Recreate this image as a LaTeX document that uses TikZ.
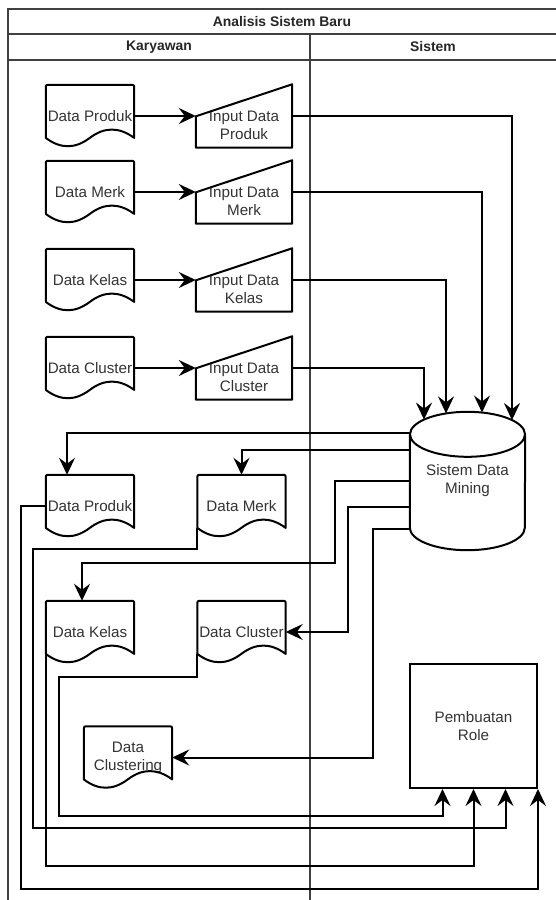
\documentclass[tikz,border=0pt]{standalone}
\usepackage{fontspec}
\setmainfont{Liberation Sans}
\usetikzlibrary{calc,arrows.meta}

\newcommand{\lblfont}{\fontsize{15.2}{18}\selectfont}
\newcommand{\hdfont}{\fontsize{13.9}{16}\selectfont\bfseries}

% outline of a document shape round node #1 (88 x 62)
\newcommand{\docout}[1]{%
  \draw[shp] ($(#1.south west)+(0,-9.3)$) -- ($(#1.north west)+(0,4)$)
    .. controls (#1.north west) .. ($(#1.north west)+(4,0)$)
    -- ($(#1.north east)+(-4,0)$)
    .. controls (#1.north east) .. ($(#1.north east)+(0,4)$)
    -- ($(#1.south east)+(0,-9.3)$)
    .. controls ($(#1.south west)+(73.3,-20.4)$) and ($(#1.south west)+(58.7,-20.4)$) .. ($(#1.south west)+(44,-9.3)$)
    .. controls ($(#1.south west)+(29.3,1.8)$) and ($(#1.south west)+(14.7,1.8)$) .. cycle;}

% outline of a manual input shape round node #1
\newcommand{\inout}[1]{%
  \draw[shp] ($(#1.north west)+(0,32)$) -- (#1.north east) -- (#1.south east) -- (#1.south west) -- cycle;}

\tikzset{
  shp/.style={line width=2pt, line join=round},
  conn/.style={line width=2pt, -{Stealth[length=17pt,width=16pt,inset=6pt]}},
  pool/.style={line width=1.2pt, black!75},
  head/.style={font=\hdfont, inner sep=0pt, text=black!85},
  docbox/.style={minimum width=88pt, minimum height=62pt, inner sep=0pt, align=center, font=\lblfont, text=black!80},
  inbox/.style={minimum width=96pt, minimum height=63pt, inner sep=0pt},
  inlabel/.style={align=center, font=\lblfont, text=black!80, yshift=-9.5pt, inner sep=0pt},
  rolebox/.style={draw, line width=2pt, minimum width=127pt, minimum height=124pt, inner sep=0pt, align=center, font=\lblfont, text=black!80}
}

\begin{document}
\begin{tikzpicture}[x=1pt, y=-1pt]
  \useasboundingbox (0,0) rectangle (556,900);
  \clip (0,0) rectangle (556,900);

  % Pool and lanes
  \draw[pool] (8,900) -- (8,9) -- (560,9);
  \draw[pool] (8,34) -- (560,34);
  \draw[pool] (8,60) -- (560,60);
  \draw[pool] (310,34) -- (310,900);
  \node[head] (ttl) at (282,21.5) {Analisis Sistem Baru};
  \node[head] (kar) at (159,47) {Karyawan};
  \node[head] (sis) at (433,47) {Sistem};

  % Sistem Data Mining
  \node[minimum width=115pt, minimum height=138pt, inner sep=0pt, align=center, font=\lblfont, text=black!80] (sdm) at (467.5,481) {Sistem Data\\Mining};
  \draw[shp] ($(sdm.north)+(0,22.5)$) ellipse [x radius=57.5, y radius=22.5];
  \draw[shp] ($(sdm.north west)+(0,22.5)$) -- ($(sdm.south west)+(0,-22.5)$)
    arc[start angle=180, end angle=0, x radius=57.5, y radius=22.5] -- ($(sdm.north east)+(0,22.5)$);

  % Input rows
  \foreach \nm/\txt/\y in {prod/Produk/116, merk/Merk/192, kelas/Kelas/280, clus/Cluster/368} {
    \node[docbox] (d\nm) at (90,\y) {Data \txt};
    \docout{d\nm}
    \node[inbox, label={[inlabel]center:{Input Data\\\txt}}] (i\nm) at (244,\y) {};
    \inout{i\nm}
    \draw[conn] (d\nm) -- (i\nm);
  }
  \draw[conn] (iprod.east) -| ($(sdm.north)+(44.5,8.3)$);
  \draw[conn] (imerk.east) -| ($(sdm.north)+(14.5,0.7)$);
  \draw[conn] (ikelas.east) -| ($(sdm.north)+(-21.5,1.6)$);
  \draw[conn] (iclus.east) -| ($(sdm.north)+(-43.5,7.8)$);

  % Output documents
  \node[docbox] (dprod2) at (90,506) {Data Produk};
  \docout{dprod2}
  \node[docbox] (dmerk2) at (241.5,506) {Data Merk};
  \docout{dmerk2}
  \node[docbox] (dkelas2) at (90,632) {Data Kelas};
  \docout{dkelas2}
  \node[docbox] (dclus2) at (241.5,632) {Data Cluster};
  \docout{dclus2}
  \node[docbox] (dclust) at (128,757.5) {Data\\Clustering};
  \docout{dclust}

  \draw[conn] ($(sdm.north west)+(0,21)$) -| ($(dprod2.north)+(-23,0)$);
  \draw[conn] ($(sdm.north west)+(0,38)$) -| (dmerk2.north);
  \draw[conn] ($(sdm.north west)+(0,69)$) -| (335,563) -| ($(dkelas2.north)+(-8,0)$);
  \draw[conn] ($(sdm.north west)+(0,95)$) -| (348,632) -- (dclus2.east);
  \draw[conn] ($(sdm.north west)+(0,117)$) -| (373,757.5) -- (dclust.east);

  % Pembuatan Role
  \node[rolebox] (role) at (473.5,726) {Pembuatan\\Role};
  \draw[conn] (dprod2.west) -| (21,889) -| (role.south east);
  \draw[conn] ($(dmerk2.south west)+(0,-9.3)$) |- (33,549) |- ($(role.south)+(32,39)$) -- ($(role.south)+(32,0)$);
  \draw[conn] ($(dkelas2.south west)+(0,-9.3)$) |- ($(role.south)+(0,77)$) -- (role.south);
  \draw[conn] ($(dclus2.south west)+(0,-9.3)$) |- (59,677) |- ($(role.south)+(-31,27)$) -- ($(role.south)+(-31,0)$);
\end{tikzpicture}
\end{document}
